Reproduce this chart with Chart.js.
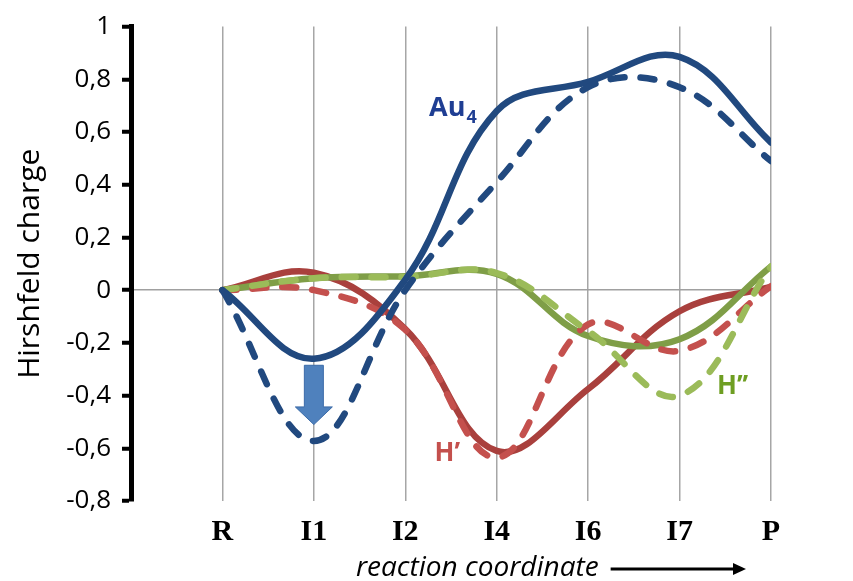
<!DOCTYPE html>
<html>
<head>
<meta charset="utf-8">
<script src="https://cdn.jsdelivr.net/npm/chart.js@4.4.0/dist/chart.umd.min.js"></script>
<style>
  html, body { margin: 0; padding: 0; background: #fff; }
  #wrap { width: 853px; height: 581px; }
</style>
</head>
<body>
<div id="wrap"><canvas id="chart" width="853" height="581"></canvas></div>
<script>
// stages along the reaction coordinate
const stages = ['R', 'I1', 'I2', 'I4', 'I6', 'I7', 'P'];
const yTickValues = [1, 0.8, 0.6, 0.4, 0.2, 0, -0.2, -0.4, -0.6, -0.8];

// Hirshfeld charges (solid / dashed)
const au4Solid = [0, -0.26, 0.04, 0.68, 0.79, 0.885, 0.56];
const au4Dashed = [0, -0.572, 0.0, 0.41, 0.77, 0.77, 0.49];
const hPrimeSolid = [0, 0.066, -0.148, -0.61, -0.375, -0.08, 0.012];
const hPrimeDashed = [0, 0.0, -0.15, -0.635, -0.13, -0.23, 0.015];
const hDoubleSolid = [0, 0.045, 0.053, 0.062, -0.174, -0.186, 0.09];
const hDoubleDashed = [0, 0.045, 0.05, 0.065, -0.155, -0.40, 0.09];

const BLUE = '#21497F';
const RED_DARK = '#A9403D';
const RED_LIGHT = '#C4504D';
const GREEN_DARK = '#7F9E47';
const GREEN_LIGHT = '#9BBB59';

function pts(arr) {
    return arr.map((v, i) => ({ x: i + 1, y: v }));
}

function series(label, arr, color, dashed, order) {
    return {
        label: label,
        data: pts(arr),
        borderColor: color,
        backgroundColor: color,
        borderWidth: 6.5,
        borderDash: dashed ? [14, 16] : [],
        borderCapStyle: 'round',
        borderJoinStyle: 'round',
        pointRadius: 0,
        tension: 0.38,
        fill: false,
        order: order
    };
}

// labels, arrow and x axis caption
const annotations = {
    id: 'annotations',
    afterDatasetsDraw(chart) {
        const ctx = chart.ctx;
        const xs = chart.scales.x, ys = chart.scales.y;
        const px = v => xs.getPixelForValue(v);
        const py = v => ys.getPixelForValue(v);
        ctx.save();

        // blue arrow at I1
        const ax = px(2);
        const top = py(-0.285), neck = py(-0.443), tip = py(-0.51);
        ctx.beginPath();
        ctx.moveTo(ax - 9.5, top);
        ctx.lineTo(ax + 9.5, top);
        ctx.lineTo(ax + 9.5, neck);
        ctx.lineTo(ax + 18.5, neck);
        ctx.lineTo(ax, tip);
        ctx.lineTo(ax - 18.5, neck);
        ctx.lineTo(ax - 9.5, neck);
        ctx.closePath();
        ctx.fillStyle = '#4F81BD';
        ctx.fill();
        ctx.lineWidth = 1;
        ctx.strokeStyle = '#3B6BA8';
        ctx.stroke();

        ctx.textBaseline = 'alphabetic';
        ctx.textAlign = 'left';

        // Au4
        ctx.fillStyle = '#1F3E93';
        ctx.font = 'bold 27px "Open Sans"';
        const auX = px(3.26), auY = py(0.66);
        ctx.fillText('Au', auX, auY);
        const w = ctx.measureText('Au').width;
        ctx.font = 'bold 18px "Open Sans"';
        ctx.fillText('4', auX + w + 1, auY + 7);

        // H'
        ctx.fillStyle = RED_LIGHT;
        ctx.font = 'bold 26px "Open Sans"';
        ctx.fillText('H\u2019', px(3.32), py(-0.648));

        // H''
        ctx.fillStyle = '#6E9E22';
        ctx.fillText('H\u2019\u2019', px(6.41), py(-0.394));

        ctx.restore();
    },
    afterDraw(chart) {
        const ctx = chart.ctx;
        const area = chart.chartArea;
        ctx.save();
        ctx.fillStyle = '#000';
        ctx.font = 'italic 28px "Open Sans"';
        ctx.textAlign = 'left';
        ctx.textBaseline = 'middle';
        const caption = 'reaction coordinate';
        const cx = 356, cy = area.bottom + 67;
        ctx.fillText(caption, cx, cy);
        const tw = ctx.measureText(caption).width;
        const x0 = cx + tw + 12, x1 = 746;
        ctx.strokeStyle = '#000';
        ctx.lineWidth = 3;
        ctx.beginPath();
        ctx.moveTo(x0, cy + 1);
        ctx.lineTo(x1 - 10, cy + 1);
        ctx.stroke();
        ctx.beginPath();
        ctx.moveTo(x1, cy + 1);
        ctx.lineTo(x1 - 13, cy - 5);
        ctx.lineTo(x1 - 13, cy + 7);
        ctx.closePath();
        ctx.fill();
        ctx.restore();
    }
};

new Chart(document.getElementById('chart'), {
    type: 'line',
    data: {
        datasets: [
            series('Au4', au4Solid, BLUE, false, 2),
            series('Au4 dashed', au4Dashed, BLUE, true, 1),
            series("H'", hPrimeSolid, RED_DARK, false, 6),
            series("H' dashed", hPrimeDashed, RED_LIGHT, true, 4),
            series("H''", hDoubleSolid, GREEN_DARK, false, 5),
            series("H'' dashed", hDoubleDashed, GREEN_LIGHT, true, 3)
        ]
    },
    options: {
        responsive: false,
        animation: false,
        layout: {
            autoPadding: false,
            padding: { left: 12, right: 82, top: 25, bottom: 0 }
        },
        plugins: {
            legend: { display: false },
            tooltip: { enabled: false }
        },
        scales: {
            x: {
                type: 'linear',
                min: 0,
                max: 7,
                afterBuildTicks: scale => {
                    scale.ticks = stages.map((s, i) => ({ value: i + 1 }));
                },
                afterFit: scale => { scale.height = 80; },
                grid: {
                    color: '#A6A6A6',
                    lineWidth: 1.5,
                    drawTicks: false
                },
                border: { display: false },
                ticks: {
                    padding: 13,
                    color: '#000',
                    font: { family: '"Liberation Serif"', size: 30, weight: 'bold' },
                    callback: v => stages[v - 1]
                }
            },
            y: {
                min: -0.8,
                max: 1,
                afterBuildTicks: scale => {
                    scale.ticks = yTickValues.map(v => ({ value: v }));
                },
                afterFit: scale => { scale.width = 119; },
                grid: {
                    color: c => (c.tick && c.tick.value === 0 ? '#A0A0A0' : 'rgba(0,0,0,0)'),
                    lineWidth: 1.5,
                    tickColor: '#000',
                    tickWidth: 4,
                    tickLength: 9
                },
                border: { color: '#000', width: 5 },
                ticks: {
                    padding: 11,
                    color: '#000',
                    font: { family: '"Open Sans"', size: 26 },
                    callback: v => String(Math.round(v * 10) / 10).replace('.', ',')
                },
                title: {
                    display: true,
                    text: 'Hirshfeld charge',
                    color: '#000',
                    font: { family: '"Open Sans"', size: 30 },
                    padding: { top: 0, bottom: 0 }
                }
            }
        }
    },
    plugins: [annotations]
});
</script>
</body>
</html>
